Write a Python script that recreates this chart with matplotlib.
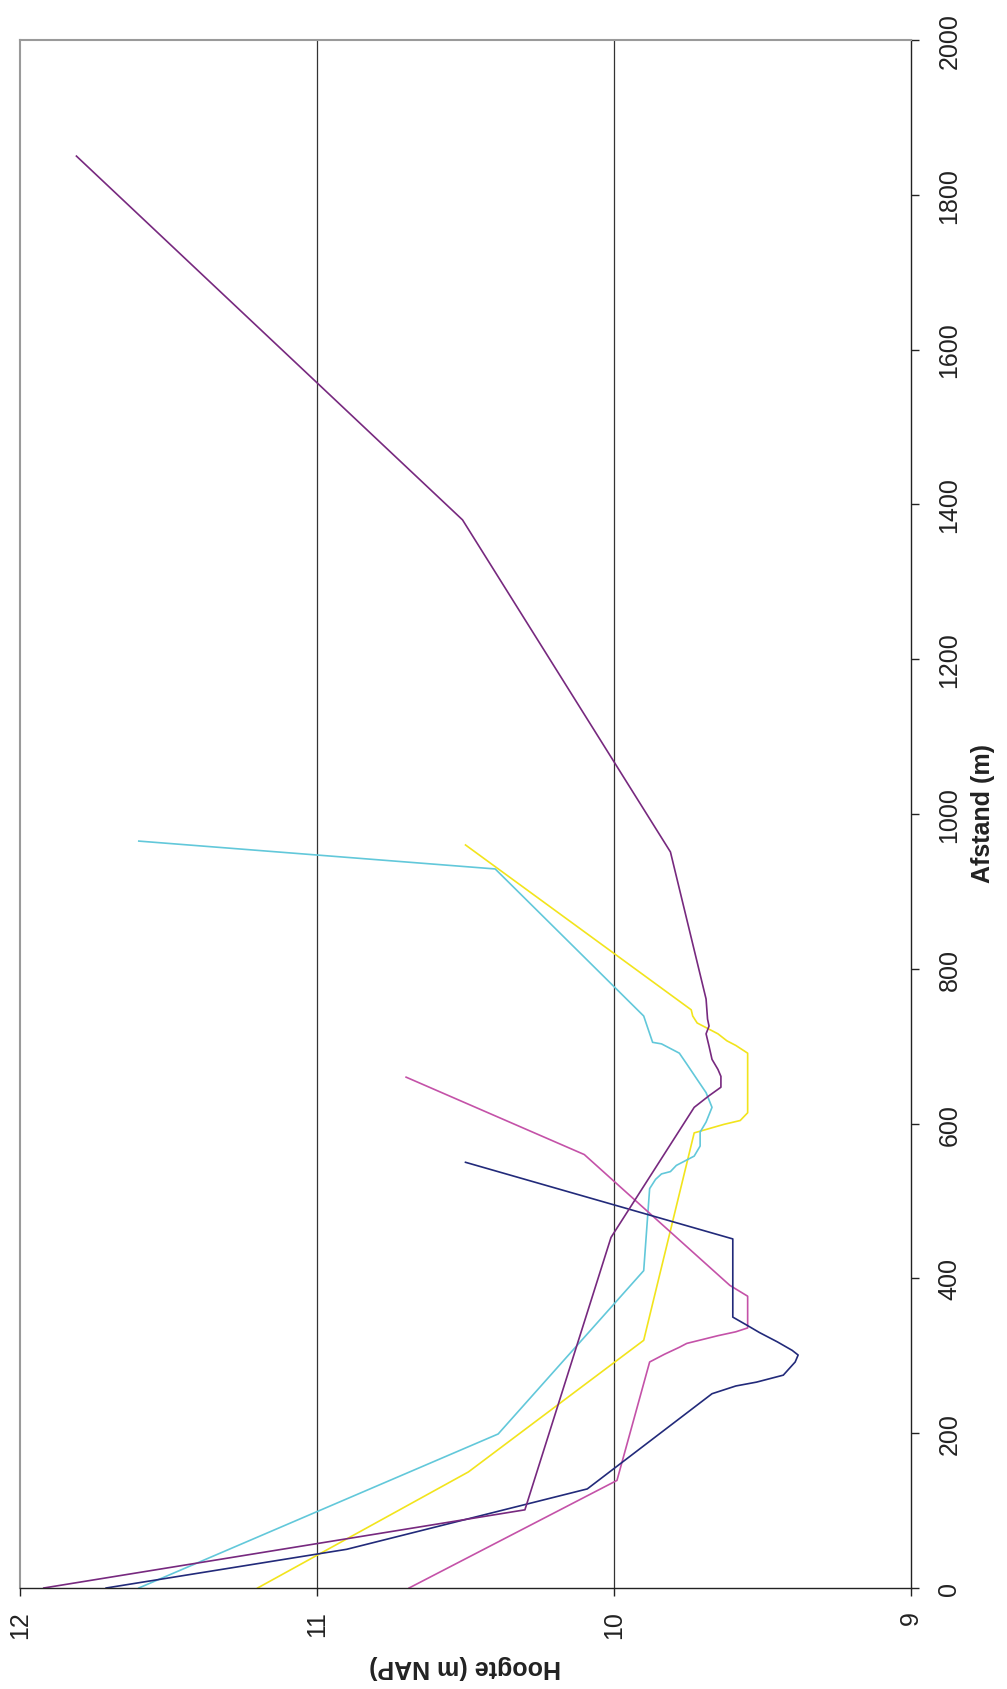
import matplotlib
matplotlib.use('Agg')
from matplotlib import pyplot as plt

# lengteprofielen: afstand (m) en hoogte (m NAP) per lijn
afstand_paars = [0, 101, 453, 621, 636, 647, 661, 670, 683, 700, 716, 726, 735, 761, 951, 1380, 1850]
hoogte_paars = [11.92, 10.30, 10.01, 9.73, 9.68, 9.64, 9.64, 9.65, 9.67, 9.68, 9.69, 9.68, 9.685, 9.69, 9.81, 10.51, 11.81]

afstand_blauw = [0, 50, 128, 251, 261, 266, 275, 292, 301, 307, 318, 330, 339, 350, 451, 550]
hoogte_blauw = [11.71, 10.90, 10.09, 9.67, 9.59, 9.52, 9.43, 9.39, 9.38, 9.40, 9.45, 9.51, 9.55, 9.60, 9.60, 10.50]

afstand_roze = [0, 139, 292, 302, 311, 316, 326, 331, 336, 377, 391, 560, 660]
hoogte_roze = [10.69, 9.99, 9.88, 9.83, 9.78, 9.755, 9.65, 9.59, 9.55, 9.55, 9.61, 10.10, 10.70]

afstand_cyaan = [0, 199, 410, 516, 528, 535, 538, 546, 558, 571, 589, 602, 621, 640, 657, 677, 691, 703, 705, 739, 929, 965]
hoogte_cyaan = [11.60, 10.39, 9.90, 9.88, 9.86, 9.84, 9.81, 9.79, 9.73, 9.71, 9.71, 9.69, 9.67, 9.69, 9.72, 9.755, 9.78, 9.84, 9.87, 9.90, 10.40, 11.60]

afstand_geel = [0, 150, 320, 588, 599, 604, 614, 691, 701, 707, 716, 730, 739, 747, 960]
hoogte_geel = [11.20, 10.49, 9.90, 9.73, 9.63, 9.575, 9.55, 9.55, 9.59, 9.62, 9.65, 9.72, 9.735, 9.74, 10.50]

hoogte_ticks = [12, 11, 10, 9]
afstand_ticks = list(range(0, 2001, 200))

fig = plt.figure(figsize=(10.07, 16.90), dpi=100)
ax = fig.add_axes([20 / 1007, 101 / 1690, 891 / 1007, 1548 / 1690])

for v in [11, 10]:
    ax.axvline(v, color='#333333', lw=0.9, zorder=1)

lw = 1.2
ax.plot(hoogte_geel, afstand_geel, color='#F2E41C', lw=lw, zorder=2)
ax.plot(hoogte_cyaan, afstand_cyaan, color='#62C8DA', lw=lw, zorder=2)
ax.plot(hoogte_roze, afstand_roze, color='#C452A8', lw=lw, zorder=2)
ax.plot(hoogte_blauw, afstand_blauw, color='#222A7A', lw=lw, zorder=2)
ax.plot(hoogte_paars, afstand_paars, color='#77297F', lw=lw, zorder=2)

ax.set_xlim(12, 9)
ax.set_ylim(0, 2000)
ax.yaxis.tick_right()
ax.set_xticks(hoogte_ticks)
ax.set_yticks(afstand_ticks)
ax.set_xticklabels([str(t) for t in hoogte_ticks], rotation=90,
                   family=['Liberation Sans Narrow', 'Liberation Sans', 'DejaVu Sans'])
ax.set_yticklabels([str(t) for t in afstand_ticks], rotation=90, va='center',
                   family=['Liberation Sans Narrow', 'Liberation Sans', 'DejaVu Sans'])
ax.tick_params(axis='both', direction='out', length=6, width=1, color='#222222',
               labelcolor='#222222', labelsize=18)
ax.tick_params(axis='x', pad=10)
ax.tick_params(axis='y', pad=13)

for s in ['left', 'top']:
    ax.spines[s].set_color('#9a9a9a')
    ax.spines[s].set_linewidth(1.5)
for s in ['right', 'bottom']:
    ax.spines[s].set_color('#222222')
    ax.spines[s].set_linewidth(1.0)

fig.text(983 / 1007, 1 - 814 / 1690, 'Afstand (m)', rotation=90, ha='center', va='center',
         fontsize=18, fontweight='bold', color='#222222',
         family=['Liberation Sans', 'DejaVu Sans'])
fig.text(465 / 1007, 1 - 1667 / 1690, 'Hoogte (m NAP)', rotation=180, ha='center', va='center',
         fontsize=18, fontweight='bold', color='#222222',
         family=['Liberation Sans', 'DejaVu Sans'])

fig.savefig('out.png', dpi=100)
